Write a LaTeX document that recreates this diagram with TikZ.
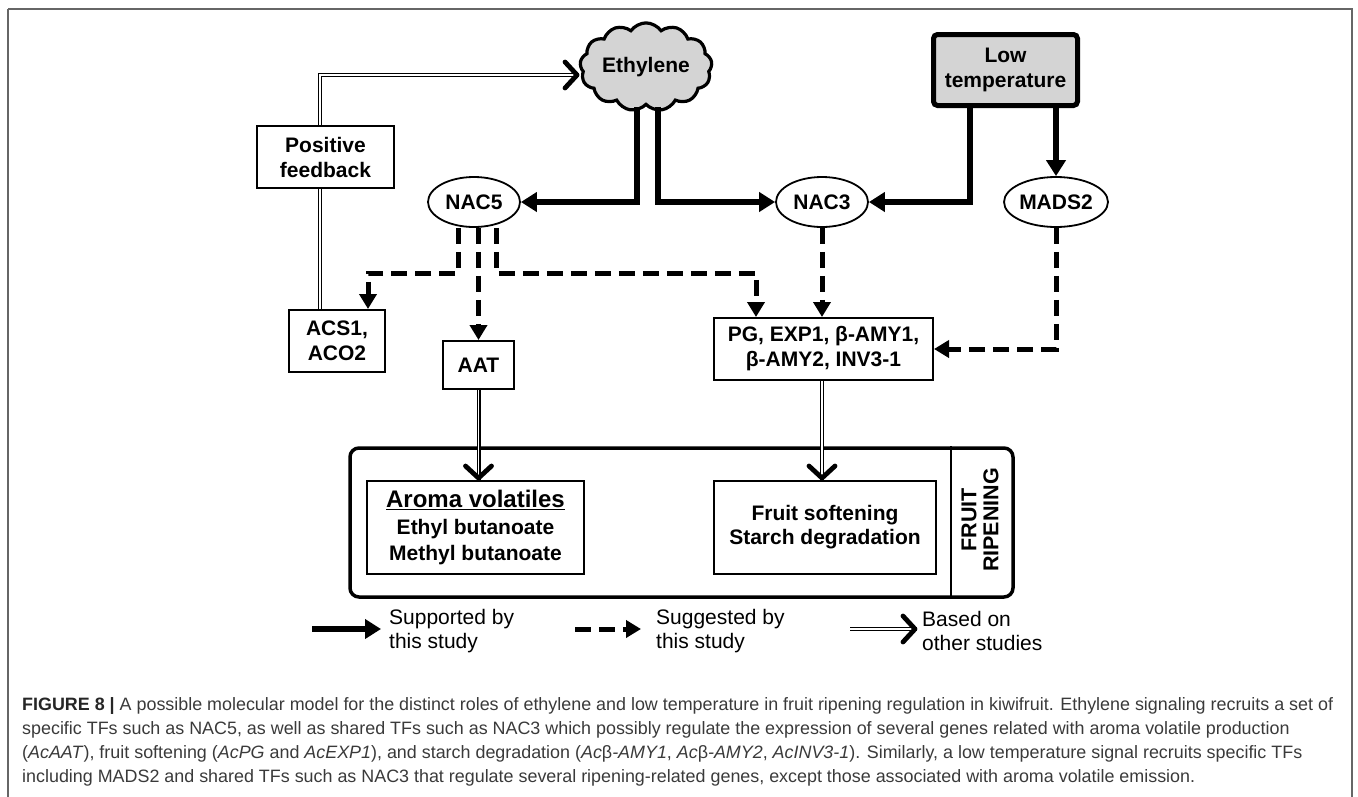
\documentclass[tikz,border=0pt]{standalone}
\usepackage{fontspec}
\setmainfont{Liberation Sans}
\usetikzlibrary{arrows.meta,shapes.symbols,shapes.geometric,calc}
\newcommand\nodefont{\fontsize{21}{25}\selectfont\bfseries}
\newcommand\legfont{\fontsize{21}{24}\selectfont}
\newcommand\capfont{\fontsize{17.9}{24}\selectfont}
\definecolor{capgray}{HTML}{3A3A3A}
\definecolor{fillgray}{HTML}{D4D4D4}
\begin{document}
\begin{tikzpicture}[x=1pt,y=-1pt,
  box/.style={draw, line width=2pt, align=center, font=\nodefont, inner sep=0pt},
  ell/.style={draw, ellipse, line width=1.8pt, minimum width=92pt, minimum height=50pt, inner sep=0pt, font=\nodefont},
  solidarr/.style={line width=5.5pt, -{Triangle[length=16pt,width=19pt]}},
  dasharr/.style={line width=5pt, dash pattern=on 16pt off 8pt, -{Triangle[length=15pt,width=17pt]}},
  dblline/.style={double, double distance=1.6pt, line width=1.2pt},
  chev/.pic={\draw[line width=4.8pt, line join=round, line cap=round] (-14,-13) -- (-2,0) -- (-14,13);},
]
\useasboundingbox (0,0) rectangle (1358,796);
% outer frame
\draw[gray!80!black, line width=1.2pt] (8,9) -- (1352,9) -- (1352,810) (8,9) -- (8,810);

% nodes
\node[cloud, cloud puffs=13, cloud puff arc=110, aspect=1.65, draw, line width=3.2pt, fill=fillgray,
      minimum width=132pt, minimum height=78pt, inner sep=0pt, font=\nodefont] (ethy) at (646,67) {Ethylene};
\node[draw, line width=5pt, fill=fillgray, rounded corners=4pt, minimum width=144pt, minimum height=71pt,
      align=center, inner sep=0pt, font=\nodefont] (lt) at (1005.5,70) {Low\\temperature};
\node[box, minimum width=137pt, minimum height=62pt] (pf) at (325.5,157) {Positive\\feedback};
\node[ell] (nac5) at (474,202) {NAC5};
\node[ell] (nac3) at (822,202) {NAC3};
\node[ell] (mads2) at (1056,202) {MADS2};
\node[box, minimum width=96pt, minimum height=62pt] (acs) at (337,341) {ACS1,\\ACO2};
\node[box, minimum width=71pt, minimum height=48pt] (aat) at (478.5,365) {AAT};
\node[box, minimum width=219pt, minimum height=62pt] (pg) at (823.5,349) {PG, EXP1, β-AMY1,\\β-AMY2, INV3-1};

% fruit ripening frame
\node[draw, line width=3.5pt, rounded corners=9pt, minimum width=663pt, minimum height=149pt, inner sep=0pt] (fr) at (681.5,522.5) {};
\coordinate (divx) at (951,0);
\draw[line width=2pt] (fr.north -| divx) -- (fr.south -| divx);
\node[rotate=90, align=center, font=\fontsize{21.5}{22}\selectfont\bfseries] (ripen) at (980,520) {FRUIT\\RIPENING};
\node[box, minimum width=217pt, minimum height=93pt, font=\fontsize{21}{26.5}\selectfont\bfseries] (aroma) at (475.5,527.5)
  {{\fontsize{24}{26.5}\selectfont\underline{Aroma volatiles}}\\Ethyl butanoate\\Methyl butanoate};
\node[box, minimum width=222pt, minimum height=93pt, font=\fontsize{21}{24}\selectfont\bfseries] (soft) at (825,527.5)
  {Fruit softening\\Starch degradation};

% solid arrows
\draw[solidarr] ([xshift=-9pt]ethy.south) |- (nac5.east);
\draw[solidarr] ([xshift=12pt]ethy.south) |- (nac3.west);
\draw[solidarr] ([xshift=-35.5pt]lt.south) |- (nac3.east);
\draw[solidarr] (lt.south -| mads2) -- (mads2.north);

% dashed arrows
\coordinate (dy) at (0,273);
\draw[dasharr] ([xshift=-16pt]nac5.south) -- ([xshift=-16pt]nac5.south |- dy) -| ([xshift=31pt]acs.north);
\draw[dasharr] (nac5.south -| aat.north) -- (aat.north);
\draw[dasharr] ([xshift=22pt]nac5.south) -- ([xshift=22pt]nac5.south |- dy) -| ([xshift=-67.5pt]pg.north);
\draw[dasharr] (nac3.south) -- (pg.north -| nac3.south);
\draw[dasharr] (mads2.south) |- (pg.east);

% double (other studies) arrows
\coordinate (fbx) at (320,0);
\path ([yshift=-8pt]ethy.west) coordinate (ethin);
\path (aroma.north -| aat.south) coordinate (aroin);
\path (soft.north -| nac3) coordinate (softin);
\draw[dblline] (acs.north -| fbx) -- (pf.south -| fbx);
\draw[dblline] (pf.north -| fbx) |- (ethin);
\pic at (ethin) {chev};
\draw[dblline] (aat.south) -- (aroin);
\pic[rotate=-90] at (aroin) {chev};
\draw[dblline] (pg.south -| nac3) -- (softin);
\pic[rotate=-90] at (softin) {chev};

% legend
\coordinate (l1a) at (312,629); \coordinate (l1b) at (381,629);
\coordinate (l2a) at (575,629); \coordinate (l2b) at (641,629);
\coordinate (l3a) at (850,629); \coordinate (l3b) at (917,629);
\draw[solidarr] (l1a) -- (l1b);
\draw[dasharr] (l2a) -- (l2b);
\draw[dblline] (l3a) -- (l3b);
\pic at (l3b) {chev};
\node[anchor=west, align=left, inner sep=0pt, font=\legfont] (t1) at (389,631) {Supported by\\this study};
\node[anchor=west, align=left, inner sep=0pt, font=\legfont] (t2) at (656,631) {Suggested by\\this study};
\node[anchor=west, align=left, inner sep=0pt, font=\legfont] (t3) at (922,631) {Based on\\other studies};

% caption
\node[anchor=north west, align=left, inner sep=0pt, font=\capfont, text=capgray] (cap) at (22,697)
{{\color{black!85}\bfseries FIGURE 8 |} A possible molecular model for the distinct roles of ethylene and low temperature in fruit ripening regulation in kiwifruit. Ethylene signaling recruits a set of\\
specific TFs such as NAC5, as well as shared TFs such as NAC3 which possibly regulate the expression of several genes related with aroma volatile production\\
(\textit{AcAAT}), fruit softening (\textit{AcPG} and \textit{AcEXP1}), and starch degradation (\textit{Ac}β\textit{-AMY1}, \textit{Ac}β\textit{-AMY2}, \textit{AcINV3-1}). Similarly, a low temperature signal recruits specific TFs\\
including MADS2 and shared TFs such as NAC3 that regulate several ripening-related genes, except those associated with aroma volatile emission.};
\end{tikzpicture}
\end{document}
